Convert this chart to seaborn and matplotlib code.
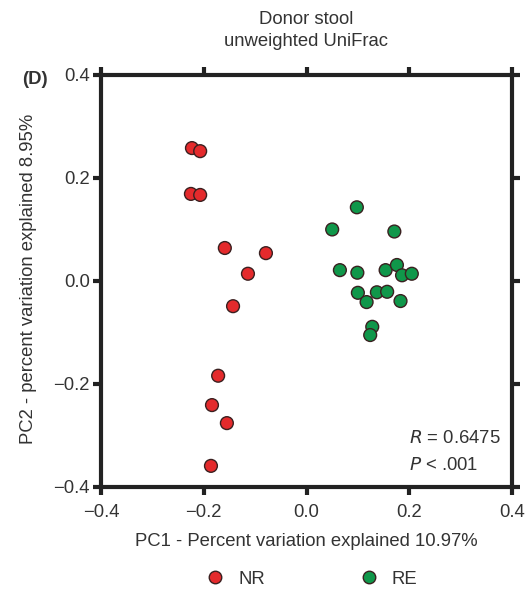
import numpy as np
import pandas as pd
import matplotlib
matplotlib.use("Agg")
import matplotlib.pyplot as plt
import seaborn as sns

# Data
nr_pc1 = [-0.223, -0.207, -0.225, -0.207, -0.159, -0.079, -0.114, -0.143,
          -0.172, -0.184, -0.155, -0.186]
nr_pc2 = [0.258, 0.252, 0.169, 0.167, 0.064, 0.054, 0.014, -0.049,
          -0.184, -0.241, -0.276, -0.359]
re_pc1 = [0.098, 0.050, 0.171, 0.065, 0.099, 0.154, 0.176, 0.186, 0.205,
          0.100, 0.117, 0.137, 0.157, 0.183, 0.128, 0.124]
re_pc2 = [0.143, 0.100, 0.096, 0.021, 0.016, 0.021, 0.031, 0.011, 0.014,
          -0.023, -0.041, -0.022, -0.021, -0.039, -0.089, -0.105]
groups = ["NR", "RE"]
ticks = [-0.4, -0.2, 0.0, 0.2, 0.4]

df = pd.DataFrame({
    "PC1": nr_pc1 + re_pc1,
    "PC2": nr_pc2 + re_pc2,
    "Group": [groups[0]] * len(nr_pc1) + [groups[1]] * len(re_pc1),
})

sns.set_style("white")
plt.rcParams["font.family"] = ["Liberation Sans", "DejaVu Sans"]

FS = 13.3
fig = plt.figure(figsize=(5.27, 5.90), dpi=100)
ax = fig.add_axes([0.1917, 0.1746, 0.7798, 0.6984])

palette = {"NR": "#e42a2c", "RE": "#10974a"}
sns.scatterplot(data=df, x="PC1", y="PC2", hue="Group", palette=palette,
                s=85, edgecolor="#3a2020", linewidth=1.0, ax=ax, legend=False,
                zorder=3)

ax.set_xlim(-0.4, 0.4)
ax.set_ylim(-0.4, 0.4)
ax.set_xticks(ticks)
ax.set_yticks(ticks)
ax.set_xticklabels([f"{t:.1f}".replace("-", "\u2212") for t in ticks])
ax.set_yticklabels([f"{t:.1f}".replace("-", "\u2212") for t in ticks])
for sp in ax.spines.values():
    sp.set_visible(True)
    sp.set_linewidth(3.0)
    sp.set_color("#222222")
ax.tick_params(axis="both", which="both", direction="out", length=6, width=3,
               color="#222222", labelsize=FS, labelcolor="#333333",
               top=True, right=True, bottom=True, left=True,
               labeltop=False, labelright=False)
ax.tick_params(axis="x", pad=6)
ax.tick_params(axis="y", pad=2)

ax.set_xlabel("PC1 - Percent variation explained 10.97%", fontsize=FS,
              color="#333333")
ax.set_ylabel("PC2 - percent variation explained 8.95%", fontsize=FS,
              color="#333333")
ax.xaxis.set_label_coords(0.5, -0.111)
ax.yaxis.set_label_coords(-0.156, 0.505)

fig.text(0.581, 0.967, "Donor stool", ha="center", va="center",
         fontsize=FS, color="#333333")
fig.text(0.581, 0.930, "unweighted UniFrac", ha="center", va="center",
         fontsize=FS, color="#333333")
fig.text(0.042, 0.866, "(D)", ha="left", va="center", fontsize=FS,
         fontweight="bold", color="#333333")

ax.text(0.749, 0.1165, r"$\it{R}$" + " = 0.6475", transform=ax.transAxes,
        ha="left", va="center", fontsize=FS, color="#333333")
ax.text(0.749, 0.053, r"$\it{P}$" + " < .001", transform=ax.transAxes,
        ha="left", va="center", fontsize=FS, color="#333333")

handles = [plt.Line2D([], [], marker="o", linestyle="", markersize=9,
                      markerfacecolor=palette[g], markeredgecolor="#3a2020",
                      markeredgewidth=1.0, label=g) for g in groups]
fig.legend(handles=handles, loc="center", bbox_to_anchor=(0.583, 0.018),
           ncol=2, frameon=False, fontsize=FS, columnspacing=4.6,
           handletextpad=0.25, labelcolor="#333333")

fig.savefig("out.png", dpi=100)
